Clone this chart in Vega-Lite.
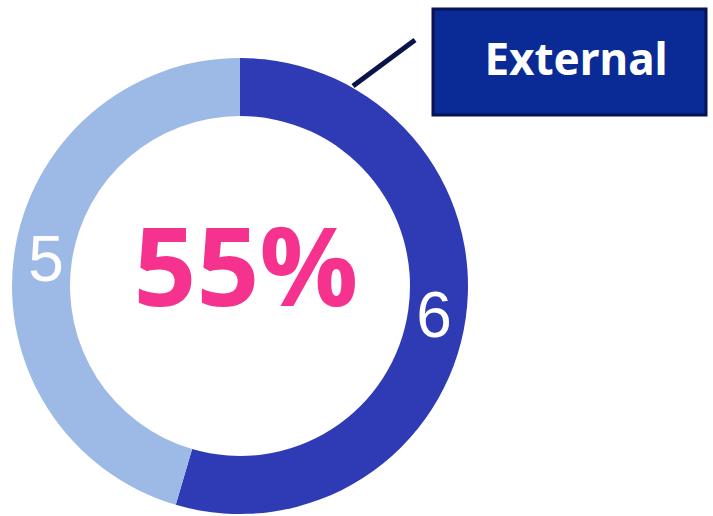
{
  "$schema": "https://vega.github.io/schema/vega-lite/v6.json",
  "width": 713,
  "height": 516,
  "autosize": {"type": "fit", "contains": "padding"},
  "padding": 0,
  "background": "white",
  "config": {"view": {"stroke": null}},
  "datasets": {
    "slices": [
      {"category": "External", "value": 6, "order": 1, "cx": 240, "cy": 286},
      {"category": "Internal", "value": 5, "order": 2, "cx": 240, "cy": 286}
    ],
    "center": [{"label": "55%", "x": 246, "y": 273}],
    "box": [{"x": 433, "x2": 706, "y": 9, "y2": 115, "tx": 576, "ty": 62, "label": "External"}],
    "callout": [{"x": 353, "y": 86, "x2": 415, "y2": 40}]
  },
  "layer": [
    {
      "data": {"name": "slices"},
      "mark": {"type": "arc", "outerRadius": 228, "innerRadius": 170, "stroke": null},
      "encoding": {
        "x": {"field": "cx", "type": "quantitative", "scale": {"domain": [0, 713]}, "axis": null},
        "y": {"field": "cy", "type": "quantitative", "scale": {"domain": [516, 0]}, "axis": null},
        "theta": {"field": "value", "type": "quantitative", "stack": true},
        "order": {"field": "order"},
        "color": {"field": "category", "type": "nominal", "scale": {"domain": ["External", "Internal"], "range": ["#2f3bb4", "#9dbae7"]}, "legend": null}
      }
    },
    {
      "data": {"name": "slices"},
      "mark": {"type": "text", "radius": 196, "dy": 4, "font": "Liberation Sans", "fontSize": 64, "color": "white", "baseline": "middle", "align": "center"},
      "encoding": {
        "x": {"field": "cx", "type": "quantitative", "scale": {"domain": [0, 713]}, "axis": null},
        "y": {"field": "cy", "type": "quantitative", "scale": {"domain": [516, 0]}, "axis": null},
        "theta": {"field": "value", "type": "quantitative", "stack": true},
        "order": {"field": "order"},
        "text": {"field": "value", "type": "quantitative"}
      }
    },
    {
      "data": {"name": "center"},
      "mark": {"type": "text", "font": "Open Sans", "fontWeight": "bold", "fontSize": 110, "color": "#f5338f", "baseline": "middle", "align": "center"},
      "encoding": {
        "x": {"field": "x", "type": "quantitative", "scale": {"domain": [0, 713]}, "axis": null},
        "y": {"field": "y", "type": "quantitative", "scale": {"domain": [516, 0]}, "axis": null},
        "text": {"field": "label"}
      }
    },
    {
      "data": {"name": "callout"},
      "mark": {"type": "rule", "color": "#0b1448", "strokeWidth": 5},
      "encoding": {
        "x": {"field": "x", "type": "quantitative", "scale": {"domain": [0, 713]}, "axis": null},
        "y": {"field": "y", "type": "quantitative", "scale": {"domain": [516, 0]}, "axis": null},
        "x2": {"field": "x2"},
        "y2": {"field": "y2"}
      }
    },
    {
      "data": {"name": "box"},
      "mark": {"type": "rect", "fill": "#0a2b96", "stroke": "#071352", "strokeWidth": 3},
      "encoding": {
        "x": {"field": "x", "type": "quantitative", "scale": {"domain": [0, 713]}, "axis": null},
        "y": {"field": "y", "type": "quantitative", "scale": {"domain": [516, 0]}, "axis": null},
        "x2": {"field": "x2"},
        "y2": {"field": "y2"}
      }
    },
    {
      "data": {"name": "box"},
      "mark": {"type": "text", "font": "Noto Sans", "fontWeight": "bold", "fontSize": 44, "color": "white", "baseline": "middle", "align": "center"},
      "encoding": {
        "x": {"field": "tx", "type": "quantitative", "scale": {"domain": [0, 713]}, "axis": null},
        "y": {"field": "ty", "type": "quantitative", "scale": {"domain": [516, 0]}, "axis": null},
        "text": {"field": "label"}
      }
    }
  ]
}
